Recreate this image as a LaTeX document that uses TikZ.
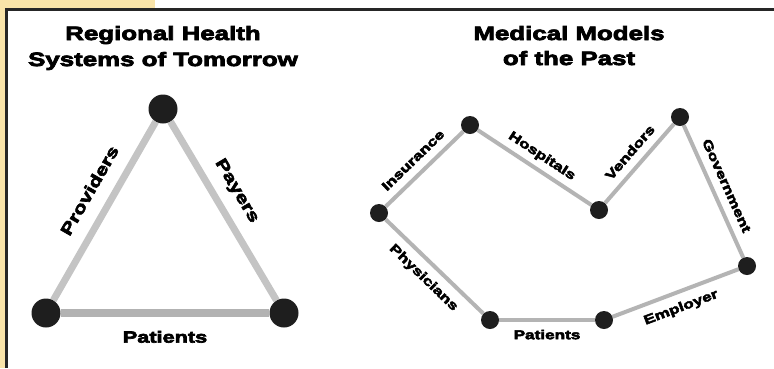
\documentclass[tikz,border=0pt]{standalone}
\usepackage{fontspec}
\usetikzlibrary{backgrounds}
\newfontfamily\hfont{Liberation Sans}[FakeStretch=1.34,
  BoldFont={Liberation Sans Bold}, BoldFeatures={FakeBold=4}]
\definecolor{tabyellow}{HTML}{F9E4A9}
\definecolor{dotc}{HTML}{1E1E1E}
\definecolor{barc}{HTML}{C4C4C4}
\definecolor{barb}{HTML}{B2B2B2}
\definecolor{thinc}{HTML}{B4B4B4}
\pgfdeclarelayer{frame}
\pgfsetlayers{frame,background,main}
\begin{document}
\begin{tikzpicture}[x=1pt,y=1pt,
  bigdot/.style={circle, fill=dotc, minimum size=29pt, inner sep=0pt},
  smalldot/.style={circle, fill=dotc, minimum size=18pt, inner sep=0pt},
  thickbar/.style={draw=barc, line width=7pt},
  basebar/.style={draw=barb, line width=8pt},
  thinbar/.style={draw=thinc, line width=4pt},
  biglab/.style={font=\hfont\bfseries\fontsize{16.2}{18}\selectfont, sloped,
    inner xsep=0pt, inner ysep=14pt, text height=11.6pt, text depth=0pt},
  smalllab/.style={font=\hfont\bfseries\fontsize{12.8}{15}\selectfont, sloped,
    inner xsep=0pt, inner ysep=8pt, text height=9.2pt, text depth=0pt},
  title/.style={font=\hfont\bfseries\fontsize{19.3}{22}\selectfont,
    anchor=base, inner sep=0pt}]
\useasboundingbox (0,0) rectangle (774,-368);

% frame: tab, left strip and black rule
\begin{pgfonlayer}{frame}
  \fill[white] (0,0) rectangle (774,-368);
  \fill[tabyellow] (0,0) rectangle (155,-8);
  \fill[tabyellow] (0,0) rectangle (5,-368);
  \draw[black!85, line width=3pt] (6.5,-368) -- (6.5,-9.5) -- (774,-9.5);
\end{pgfonlayer}

% titles
\node[title] (t1a) at (163,-40) {Regional Health};
\node[title] (t1b) at (163,-66) {Systems of Tomorrow};
\node[title] (t2a) at (569,-40) {Medical Models};
\node[title] (t2b) at (569,-65) {of the Past};

% triangle of tomorrow
\node[bigdot] (T) at (163,-109) {};
\node[bigdot] (L) at (46,-313) {};
\node[bigdot] (R) at (284,-313) {};

% chain of the past
\node[smalldot] (A) at (379,-213) {};
\node[smalldot] (B) at (470,-125) {};
\node[smalldot] (C) at (599,-210) {};
\node[smalldot] (D) at (680,-117) {};
\node[smalldot] (E) at (747,-266) {};
\node[smalldot] (F) at (604,-320) {};
\node[smalldot] (G) at (490,-320) {};

\begin{pgfonlayer}{background}
  \draw[thickbar] (L) -- node[biglab, above, pos=.55] {Providers} (T);
  \draw[thickbar] (T) -- node[biglab, above, pos=.45] {Payers} (R);
  \draw[basebar] (L) -- node[biglab, below, pos=.5] {Patients} (R);

  \draw[thinbar] (A) -- node[smalllab, above, pos=.48] {Insurance} (B);
  \draw[thinbar] (B) -- node[smalllab, above, pos=.5] {Hospitals} (C);
  \draw[thinbar] (C) -- node[smalllab, above, pos=.52] {Vendors} (D);
  \draw[thinbar] (D) -- node[smalllab, above, pos=.5] {Government} (E);
  \draw[thinbar] (F) -- node[smalllab, below, pos=.5] {Employer} (E);
  \draw[thinbar] (G) -- node[smalllab, below, pos=.5] {Patients} (F);
  \draw[thinbar] (A) -- node[smalllab, below, pos=.5] {Physicians} (G);
\end{pgfonlayer}
\end{tikzpicture}
\end{document}
